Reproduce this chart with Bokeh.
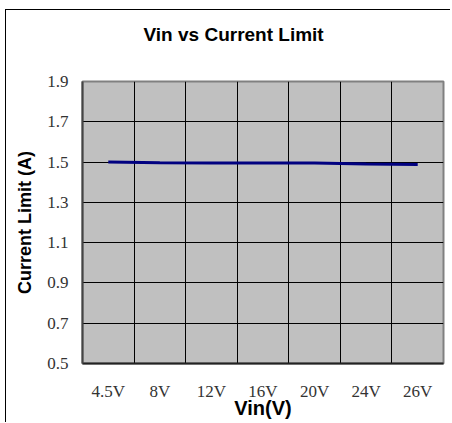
import numpy as np
from bokeh.plotting import figure
from bokeh.models import Range1d, FixedTicker, Title
from bokeh.embed import file_html
from bokeh.resources import INLINE

categories = ["4.5V", "8V", "12V", "16V", "20V", "24V", "26V"]
current_limit = [1.500, 1.497, 1.496, 1.496, 1.495, 1.490, 1.488]
y_ticks = [0.5, 0.7, 0.9, 1.1, 1.3, 1.5, 1.7, 1.9]
title_text = "Vin vs Current Limit"
x_label = "Vin(V)"
y_label = "Current Limit (A)"

n = len(categories)
xs = np.arange(n) + 0.5

p = figure(width=445, height=413, output_backend="svg", toolbar_location=None,
           x_range=Range1d(0, n), y_range=Range1d(y_ticks[0], y_ticks[-1]),
           min_border_left=76, min_border_right=8, min_border_top=71, min_border_bottom=60)
p.background_fill_color = "#C0C0C0"
p.border_fill_color = "white"
p.outline_line_color = "#808080"
p.outline_line_width = 2

p.line(xs, current_limit, line_color="#000080", line_width=3)

# axes
p.xaxis.ticker = FixedTicker(ticks=list(xs))
p.xaxis.major_label_overrides = {float(x): c for x, c in zip(xs, categories)}
p.yaxis.ticker = FixedTicker(ticks=y_ticks)
for ax in (p.xaxis[0], p.yaxis[0]):
    ax.major_tick_line_color = None
    ax.minor_tick_line_color = None
    ax.major_label_text_font = "Liberation Serif"
    ax.major_label_text_font_size = "17px"
    ax.major_label_text_color = "#333333"
    ax.axis_label_text_font = "Liberation Sans"
    ax.axis_label_text_font_style = "bold"
    ax.axis_label_text_color = "black"
p.xaxis.axis_line_color = "#222222"
p.xaxis.axis_line_width = 2
p.yaxis.axis_line_color = "#444444"
p.yaxis.axis_line_width = 2
p.xaxis.major_label_standoff = 12
p.yaxis.major_label_standoff = 8
p.xaxis.axis_label = x_label
p.xaxis.axis_label_text_font_size = "20px"
p.xaxis.axis_label_standoff = -7
p.yaxis.axis_label = y_label
p.yaxis.axis_label_text_font_size = "18px"
p.yaxis.axis_label_standoff = 9

# grids
p.xgrid.ticker = FixedTicker(ticks=list(np.arange(1, n)))
p.xgrid.grid_line_color = "black"
p.xgrid.grid_line_width = 1
p.ygrid.ticker = FixedTicker(ticks=y_ticks)
p.ygrid.grid_line_color = "black"
p.ygrid.grid_line_width = 1

# spacer between title and frame
p.add_layout(Title(text=" ", text_font_size="1px", standoff=34), "above")

# title
p.title.text = title_text
p.title.text_font = "Liberation Sans"
p.title.text_font_style = "bold"
p.title.text_font_size = "19px"
p.title.text_color = "black"
p.title.align = "left"
p.title.offset = 61
p.title.standoff = 0

p.styles = {"border-left": "1px solid black", "border-top": "1px solid black",
            "margin-left": "5px", "margin-top": "9px"}

open("out.html", "w").write(file_html(p, INLINE))
